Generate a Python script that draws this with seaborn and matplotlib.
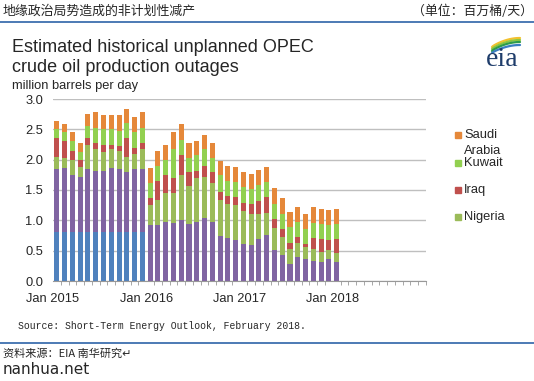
import numpy as np
import pandas as pd
import seaborn as sns
import matplotlib.pyplot as plt
import matplotlib.transforms as mtransforms
from matplotlib.patches import Rectangle

# monthly axis Jan 2015 - Dec 2018, data Jan 2015 - Jan 2018
months = pd.date_range('2015-01-01', '2018-12-01', freq='MS').strftime('%Y-%m').tolist()
data_months = months[:37]

iran = [0.80, 0.80, 0.80, 0.80, 0.80, 0.80, 0.80, 0.80, 0.80, 0.80, 0.80, 0.80,
        0, 0, 0, 0, 0, 0, 0, 0, 0, 0, 0, 0,
        0, 0, 0, 0, 0, 0, 0, 0, 0, 0, 0, 0, 0]
libya = [1.05, 1.07, 0.95, 0.92, 1.05, 1.02, 1.02, 1.07, 1.05, 1.00, 1.05, 1.05,
         0.93, 0.93, 0.98, 0.96, 1.01, 0.94, 0.98, 1.04, 0.98, 0.74, 0.71, 0.68,
         0.61, 0.60, 0.69, 0.76, 0.51, 0.43, 0.28, 0.40, 0.36, 0.33, 0.31, 0.36, 0.31]
nigeria = [0.20, 0.16, 0.24, 0.16, 0.40, 0.35, 0.30, 0.30, 0.30, 0.25, 0.25, 0.33,
           0.33, 0.41, 0.47, 0.49, 0.74, 0.63, 0.72, 0.68, 0.64, 0.60, 0.56, 0.58,
           0.55, 0.51, 0.42, 0.36, 0.37, 0.30, 0.25, 0.23, 0.20, 0.20, 0.17, 0.15, 0.15]
iraq = [0.30, 0.27, 0.16, 0.11, 0.10, 0.11, 0.13, 0.08, 0.08, 0.30, 0.10, 0.10,
        0.11, 0.31, 0.30, 0.25, 0.33, 0.22, 0.12, 0.18, 0.17, 0.13, 0.13, 0.13,
        0.13, 0.16, 0.21, 0.27, 0.14, 0.13, 0.10, 0.10, 0.05, 0.18, 0.21, 0.17, 0.23]
kuwait = [0.15, 0.15, 0.15, 0.14, 0.21, 0.25, 0.25, 0.25, 0.25, 0.25, 0.25, 0.25,
          0.25, 0.25, 0.25, 0.48, 0.25, 0.24, 0.25, 0.27, 0.24, 0.27, 0.25, 0.24,
          0.26, 0.25, 0.27, 0.25, 0.25, 0.25, 0.26, 0.25, 0.25, 0.25, 0.25, 0.25, 0.25]
saudi = [0.14, 0.14, 0.15, 0.15, 0.20, 0.26, 0.24, 0.24, 0.25, 0.24, 0.26, 0.26,
         0.25, 0.25, 0.25, 0.27, 0.25, 0.25, 0.24, 0.24, 0.25, 0.24, 0.25, 0.25,
         0.25, 0.25, 0.24, 0.24, 0.27, 0.25, 0.25, 0.24, 0.25, 0.26, 0.25, 0.24, 0.25]

series = ['Iran', 'Libya', 'Nigeria', 'Iraq', 'Kuwait', 'Saudi Arabia']
colors = ['#4F81BD', '#8064A2', '#9BBB59', '#C0504D', '#92D050', '#E5883A']

df = pd.DataFrame({'month': data_months, 'Iran': iran, 'Libya': libya,
                   'Nigeria': nigeria, 'Iraq': iraq, 'Kuwait': kuwait,
                   'Saudi Arabia': saudi})
cum = df[series].cumsum(axis=1)
cum['month'] = df['month']

sns.set_style('white')
plt.rcParams['font.family'] = ['Liberation Sans', 'Noto Sans CJK SC', 'DejaVu Sans']

fig = plt.figure(figsize=(5.34, 3.81), dpi=100)
ax = fig.add_axes([53 / 534, 1 - 281 / 381, 373 / 534, 182 / 381])

# stacked bars: draw cumulative totals from top down
for name, col in zip(series[::-1], colors[::-1]):
    sns.barplot(data=cum, x='month', y=name, order=months, color=col,
                saturation=1, width=0.65, errorbar=None, linewidth=0, ax=ax)

ax.set_xlim(-0.5, 47.5)
ax.set_ylim(0, 3.0)
ax.set_yticks(np.arange(0, 3.01, 0.5))
ax.set_yticklabels([f'{v:.1f}' for v in np.arange(0, 3.01, 0.5)], fontsize=9.3)
ax.yaxis.grid(True, color='#BFBFBF', lw=1)
ax.set_axisbelow(True)
ax.set_xlabel('')
ax.set_ylabel('')
for s in ['left', 'right', 'top']:
    ax.spines[s].set_visible(False)
ax.spines['bottom'].set_color('#999999')
ax.tick_params(axis='y', length=0, pad=7)

ax.set_xticks([-0.5, 11.5, 23.5, 35.5])
ax.set_xticklabels(['Jan 2015', 'Jan 2016', 'Jan 2017', 'Jan 2018'], fontsize=9.3)
shift = mtransforms.ScaledTranslation(3 / 100, 0, fig.dpi_scale_trans)
for lab in ax.get_xticklabels():
    lab.set_transform(lab.get_transform() + shift)
ax.set_xticks(np.arange(-0.5, 48, 1), minor=True)
ax.tick_params(axis='x', which='major', length=6, color='#999999', pad=3, direction='out')
ax.tick_params(axis='x', which='minor', length=3, color='#999999', direction='out', bottom=True)

# legend (only four visible entries)
leg = [('Saudi', '#E5883A', 135.5), ('Kuwait', '#92D050', 162.5),
       ('Iraq', '#C0504D', 190), ('Nigeria', '#9BBB59', 217)]
for lab, col, yp in leg:
    fig.add_artist(Rectangle((455 / 534, 1 - (yp + 3) / 381), 6 / 534, 6 / 381,
                             transform=fig.transFigure, color=col))
    fig.text(464 / 534, 1 - yp / 381, lab, fontsize=9.3, va='center')
fig.text(464 / 534, 1 - 151 / 381, 'Arabia', fontsize=9.3, va='center')

# header
fig.text(3 / 534, 1 - 11 / 381, '地缘政治局势造成的非计划性减产', fontsize=9.3,
         va='center', family=['Noto Sans CJK SC', 'DejaVu Sans'])
fig.text(533 / 534, 1 - 11 / 381, '（单位：百万桶/天）', fontsize=9.3, ha='right',
         va='center', family=['Noto Sans CJK SC', 'DejaVu Sans'])
fig.add_artist(plt.Line2D([0, 1], [1 - 22 / 381] * 2, color='#2E63A8', lw=1.2))

fig.text(12 / 534, 1 - 47 / 381, 'Estimated historical unplanned OPEC', fontsize=13, va='center')
fig.text(12 / 534, 1 - 68 / 381, 'crude oil production outages', fontsize=13, va='center')
fig.text(12 / 534, 1 - 86 / 381, 'million barrels per day', fontsize=9.3, va='center')

# eia logo: swooshes + letters
lax = fig.add_axes([486 / 534, 1 - 54 / 381, 36 / 534, 18 / 381])
lax.set_xlim(0, 36)
lax.set_ylim(0, 18)
lax.axis('off')
t = np.linspace(0, 1, 40)
for y0, rise, c in [(7, 9, '#F2C12E'), (5, 9, '#8DC63F'), (3, 9, '#2E9C4A'), (1, 8, '#3A7DC0')]:
    lax.plot(6 + 28 * t, y0 + rise * np.sin(t * np.pi / 2) ** 0.8, color=c, lw=1.6,
             solid_capstyle='round')
fig.text(502 / 534, 1 - 59 / 381, 'eia', fontsize=20, ha='center', va='center',
         color='#1F3D6B', family='Liberation Serif')

fig.text(18 / 534, 1 - 326 / 381, 'Source: Short-Term Energy Outlook, February 2018.',
         fontsize=7, va='center', family='Liberation Mono')
fig.add_artist(plt.Line2D([0, 1], [1 - 343 / 381] * 2, color='#2E63A8', lw=1.2))
fig.text(3 / 534, 1 - 354 / 381, '资料来源：EIA 南华研究↵', fontsize=8, va='center',
         family=['Noto Sans CJK SC', 'DejaVu Sans'])
fig.text(3 / 534, 1 - 370 / 381, 'nanhua.net', fontsize=11, va='center',
         family='DejaVu Sans')

fig.savefig('out.png', dpi=100, facecolor='white')
